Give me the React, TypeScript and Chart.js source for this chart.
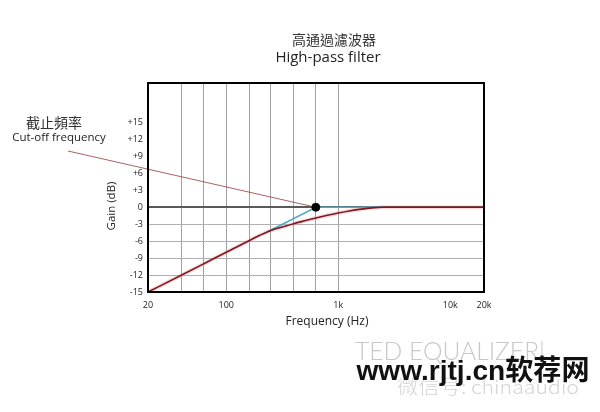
import React, { useEffect, useRef } from "react";
import { Chart, registerables } from "chart.js";

Chart.register(...registerables);

// ---- data ----
const RESPONSE_FREQ = [20, 40, 63, 100, 150, 200, 250, 315, 400, 500, 630, 800, 1000, 1250, 1600, 2000, 2500, 5000, 20000];
const RESPONSE_GAIN = [-15, -12.0, -10.0, -7.95, -6.2, -4.95, -4.1, -3.5, -2.9, -2.4, -1.9, -1.42, -1.02, -0.66, -0.33, -0.1, 0, 0, 0];
const ASYMPTOTE_FREQ = [237, 630, 2500];
const ASYMPTOTE_GAIN = [-4.3, 0, 0];
const CUTOFF_FREQ = [630];
const CUTOFF_GAIN = [0];
const X_GRID = [20, 40, 63, 100, 160, 250, 400, 630, 1000, 10000, 20000];
const X_LABELS: Record<number, string> = { 20: "20", 100: "100", 1000: "1k", 10000: "10k", 20000: "20k" };
const Y_TICKS = [-15, -12, -9, -6, -3, 0, 3, 6, 9, 12, 15];

const TITLE_ZH = "高通過濾波器";
const TITLE_EN = "High-pass filter";
const NOTE_ZH = "截止頻率";
const NOTE_EN = "Cut-off frequency";
const X_TITLE = "Frequency (Hz)";
const Y_TITLE = "Gain (dB)";
const WM_1 = "TED EQUALIZER|";
const WM_2 = "www.rjtj.cn软荐网";
const WM_3 = "微信号: chinaaudio";

const FONT = '"Open Sans", "Noto Sans CJK TC", sans-serif';
const CJK = '"Noto Sans CJK TC", "Open Sans", sans-serif';

const toPts = (xs: number[], ys: number[]) => xs.map((x, i) => ({ x, y: ys[i] }));

function text(ctx: CanvasRenderingContext2D, s: string, x: number, y: number, font: string, color: string) {
  ctx.save();
  ctx.font = font;
  ctx.fillStyle = color;
  ctx.textAlign = "center";
  ctx.textBaseline = "middle";
  ctx.fillText(s, x, y);
  ctx.restore();
}

function textFit(ctx: CanvasRenderingContext2D, s: string, cx: number, cy: number, width: number, font: string, color: string) {
  ctx.save();
  ctx.font = font;
  const w = ctx.measureText(s).width;
  ctx.translate(cx, cy);
  ctx.scale(width / w, 1);
  ctx.fillStyle = color;
  ctx.textAlign = "center";
  ctx.textBaseline = "middle";
  ctx.fillText(s, 0, 0);
  ctx.restore();
}

const decorations = {
  id: "decorations",
  beforeDatasetsDraw(chart: any) {
    const ctx = chart.ctx as CanvasRenderingContext2D;
    const px = chart.scales.x.getPixelForValue(CUTOFF_FREQ[0]);
    const py = chart.scales.y.getPixelForValue(CUTOFF_GAIN[0]);
    ctx.save();
    ctx.strokeStyle = "rgba(150,70,70,0.85)";
    ctx.lineWidth = 1;
    ctx.beginPath();
    ctx.moveTo(68, 151);
    ctx.lineTo(px, py);
    ctx.stroke();
    ctx.restore();
  },
  afterDatasetsDraw(chart: any) {
    const ctx = chart.ctx as CanvasRenderingContext2D;
    const a = chart.chartArea;
    ctx.save();
    ctx.strokeStyle = "#000";
    ctx.lineWidth = 2;
    ctx.strokeRect(a.left, a.top, a.right - a.left, a.bottom - a.top);
    ctx.restore();
  },
  afterDraw(chart: any) {
    const ctx = chart.ctx as CanvasRenderingContext2D;
    text(ctx, TITLE_ZH, 334, 40, `14px ${CJK}`, "#333");
    text(ctx, TITLE_EN, 328, 58, `15px ${FONT}`, "#222");
    text(ctx, NOTE_ZH, 54, 123, `14px ${CJK}`, "#333");
    text(ctx, NOTE_EN, 59, 138, `11.5px ${FONT}`, "#222");
    text(ctx, X_TITLE, 327, 322, `12px ${FONT}`, "#222");
    ctx.save();
    ctx.translate(112, 206);
    ctx.rotate(-Math.PI / 2);
    text(ctx, Y_TITLE, 0, 0, `11.5px ${FONT}`, "#222");
    ctx.restore();
    // watermarks
    textFit(ctx, WM_1, 450, 352, 190, `300 25px Lato, ${FONT}`, "#c8c8c8");
    textFit(ctx, WM_3, 488, 387, 182, `300 19px ${CJK}`, "#d4d4d4");
    textFit(ctx, WM_2, 473, 372, 233, `bold 28px "Liberation Sans", "Noto Sans CJK SC", sans-serif`, "#111");
  },
};

export default function App() {
  const ref = useRef<HTMLCanvasElement>(null);
  useEffect(() => {
    const chart = new Chart(ref.current!, {
      type: "line",
      data: {
        datasets: [
          {
            data: toPts(CUTOFF_FREQ, CUTOFF_GAIN),
            showLine: false,
            pointRadius: 4,
            pointBackgroundColor: "#000",
            pointBorderColor: "#000",
          },
          {
            data: toPts(RESPONSE_FREQ, RESPONSE_GAIN),
            borderColor: "#7d1820",
            borderWidth: 1.6,
            pointRadius: 0,
            cubicInterpolationMode: "monotone",
          },
          {
            data: toPts(ASYMPTOTE_FREQ, ASYMPTOTE_GAIN),
            borderColor: "#4fa9c6",
            borderWidth: 1.6,
            pointRadius: 0,
            tension: 0,
          },
          {
            data: toPts(RESPONSE_FREQ, RESPONSE_GAIN),
            borderColor: "rgba(235,150,160,0.35)",
            borderWidth: 4,
            pointRadius: 0,
            cubicInterpolationMode: "monotone",
          },
        ],
      },
      options: {
        responsive: false,
        animation: false,
        layout: { padding: { top: 83, right: 116, left: 0, bottom: 0 } },
        plugins: {
          legend: { display: false },
          tooltip: { enabled: false },
          title: { display: false },
        },
        scales: {
          x: {
            type: "logarithmic",
            min: 20,
            max: 20000,
            afterBuildTicks: (s: any) => {
              s.ticks = X_GRID.map((v) => ({ value: v }));
            },
            afterFit: (s: any) => {
              s.height = 120;
            },
            grid: {
              drawTicks: false,
              lineWidth: 1,
              color: (c: any) => {
                const v = c.tick?.value;
                return v > 20 && v <= 1000 ? "#a0a0a0" : "rgba(0,0,0,0)";
              },
            },
            border: { color: "#000", width: 2 },
            ticks: {
              autoSkip: false,
              maxRotation: 0,
              padding: 8,
              color: "#222",
              font: { size: 9, family: FONT },
              callback: (v: any) => X_LABELS[Number(v)] ?? "",
            },
          },
          y: {
            type: "linear",
            min: -15,
            max: 22,
            afterBuildTicks: (s: any) => {
              s.ticks = Y_TICKS.map((v) => ({ value: v }));
            },
            afterFit: (s: any) => {
              s.width = 148;
            },
            grid: {
              drawTicks: false,
              color: (c: any) => {
                const v = c.tick?.value;
                if (v === 0) return "#5a5a5a";
                if (v < 0 && v > -15) return "#b0b0b0";
                return "rgba(0,0,0,0)";
              },
              lineWidth: (c: any) => (c.tick?.value === 0 ? 2 : 1),
            },
            border: { color: "#000", width: 2 },
            ticks: {
              padding: 5,
              color: "#222",
              font: { size: 9, family: FONT },
              callback: (v: any) => (Number(v) > 0 ? "+" + v : String(v)),
            },
          },
        },
      },
      plugins: [decorations],
    } as any);
    return () => chart.destroy();
  }, []);
  return (
    <div style={{ position: "absolute", left: 0, top: 0, width: 600, height: 412, background: "#fff" }}>
      <canvas ref={ref} width={600} height={412} style={{ display: "block" }} />
    </div>
  );
}
